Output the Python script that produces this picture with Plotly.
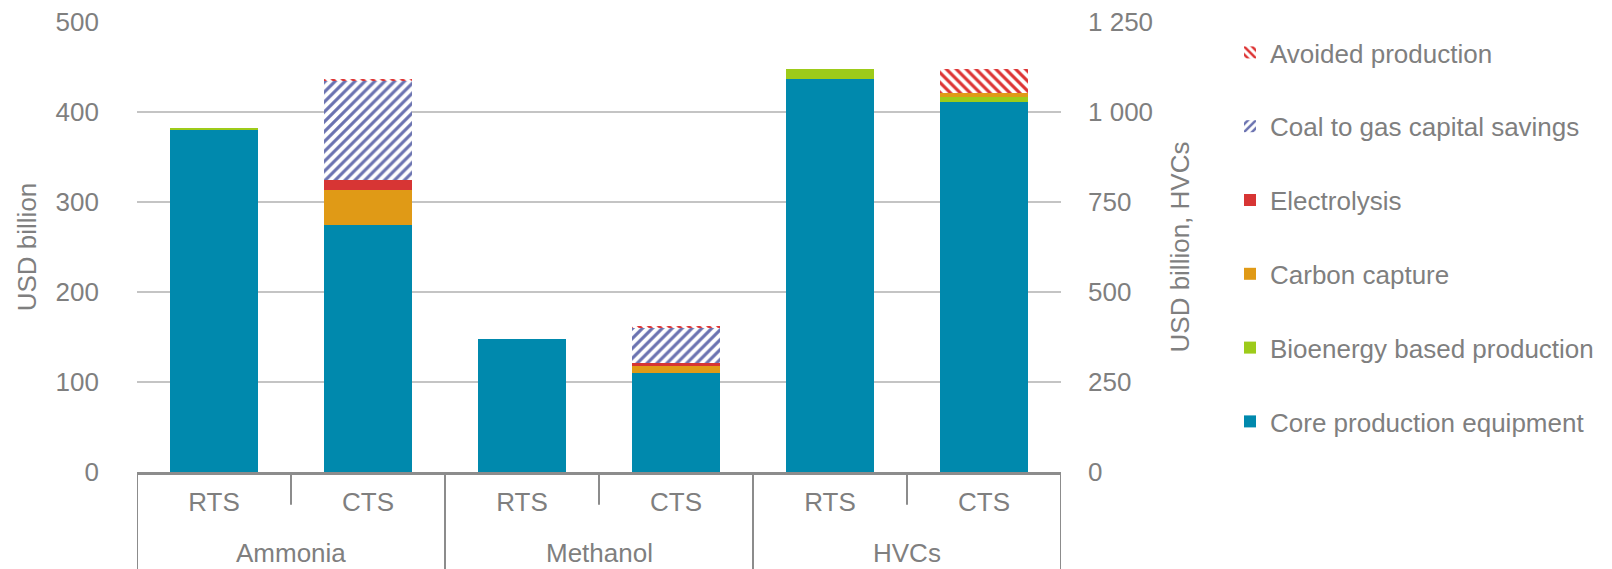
import plotly.graph_objects as go

groups = ["Ammonia", "Ammonia", "Methanol", "Methanol", "HVCs", "HVCs"]
scenarios = ["RTS", "CTS", "RTS", "CTS", "RTS", "CTS"]

core = [380, 275, 148, 110, 1092, 1029]
bioenergy = [2, 0, 0, 0, 27, 14]
carbon_capture = [0.5, 38, 0, 8, 0, 10]
electrolysis = [0, 12, 0, 3, 0, 0]
coal_to_gas = [0, 109, 0, 39.5, 0, 0]
avoided = [0, 3, 0, 1.5, 0, 66]

series = [
    ("Core production equipment", core, "#0089ad", None),
    ("Bioenergy based production", bioenergy, "#9dcb1a", None),
    ("Carbon capture", carbon_capture, "#e09a16", None),
    ("Electrolysis", electrolysis, "#d73534", None),
    ("Coal to gas capital savings", coal_to_gas, "#6a72b0", "/"),
    ("Avoided production", avoided, "#dd3333", "\\"),
]

FONT = "Liberation Sans, Arial, sans-serif"
GREY = "#7f7f7f"
LINE = "#8c8c8c"
FS = 26

keys = [f"{g} {s}" for g, s in zip(groups, scenarios)]
left_idx = [i for i, g in enumerate(groups) if g != "HVCs"]
right_idx = [i for i, g in enumerate(groups) if g == "HVCs"]

fig = go.Figure()
n = len(series)
for k, (name, vals, color, shape) in enumerate(series):
    if shape:
        marker = dict(color="white", line=dict(width=0),
                      pattern=dict(shape=shape, fgcolor=color, bgcolor="white",
                                   size=7, solidity=0.45, fillmode="replace"))
    else:
        marker = dict(color=color, line=dict(width=0))
    fig.add_trace(go.Bar(
        x=[keys[i] for i in left_idx], y=[vals[i] for i in left_idx],
        name=name, marker=marker, legendgroup=name, legendrank=n - k,
        showlegend=True, yaxis="y",
    ))
    fig.add_trace(go.Bar(
        x=[keys[i] for i in right_idx], y=[vals[i] for i in right_idx],
        name=name, marker=marker, legendgroup=name, legendrank=n - k,
        showlegend=False, yaxis="y2",
    ))

# category separators and group labels (derived from the category lists)
shapes = []
annotations = []
bounds = [-0.5]
for i in range(1, len(groups)):
    b = i - 0.5
    if groups[i] != groups[i - 1]:
        bounds.append(b)
    else:
        shapes.append(dict(type="line", xref="x", yref="paper", x0=b, x1=b,
                           y0=0, y1=-0.073, line=dict(color=LINE, width=2)))
bounds.append(len(groups) - 0.5)
for b in bounds:
    shapes.append(dict(type="line", xref="x", yref="paper", x0=b, x1=b,
                       y0=0, y1=-0.3, line=dict(color=LINE, width=2)))
seen = []
for g in groups:
    if g not in seen:
        seen.append(g)
for g in seen:
    idx = [i for i, gg in enumerate(groups) if gg == g]
    annotations.append(dict(text=g, xref="x", yref="paper", x=sum(idx) / len(idx),
                            y=-0.18, xanchor="center", yanchor="middle",
                            showarrow=False, font=dict(size=FS, color=GREY)))

fig.update_layout(
    width=1612, height=569,
    barmode="stack", bargap=0.43,
    plot_bgcolor="white", paper_bgcolor="white",
    margin=dict(l=137, r=551, t=22, b=97, autoexpand=False),
    font=dict(family=FONT, size=FS, color=GREY),
    separators=". ",
    shapes=shapes, annotations=annotations,
    hovermode=False,
    xaxis=dict(
        type="category", categoryorder="array", categoryarray=keys,
        labelalias={k: s for k, s in zip(keys, scenarios)},
        showline=True, linecolor=LINE, linewidth=3, ticks="",
        ticklabelstandoff=5, range=[-0.5, len(keys) - 0.5], automargin=False,
        tickfont=dict(size=FS, color=GREY), showgrid=False,
    ),
    yaxis=dict(
        range=[0, 500], dtick=100, showgrid=True, gridcolor="#c4c4c4", gridwidth=2,
        zeroline=False, showline=False, ticks="", ticklabelstandoff=37, automargin=False,
        title=dict(text="USD billion", font=dict(size=FS, color=GREY), standoff=11),
        tickfont=dict(size=FS, color=GREY),
    ),
    yaxis2=dict(
        range=[0, 1250], dtick=250, overlaying="y", side="right", showgrid=False,
        zeroline=False, showline=False, ticks="", ticklabelstandoff=26, automargin=False,
        separatethousands=True,
        title=dict(text="USD billion, HVCs", font=dict(size=FS, color=GREY), standoff=18),
        tickfont=dict(size=FS, color=GREY),
    ),
    legend=dict(
        x=1230 / 1612, xref="container", xanchor="left",
        y=1 - 29 / 569, yref="container", yanchor="top", maxheight=560,
        traceorder="grouped", tracegroupgap=37,
        font=dict(size=FS, color=GREY), bgcolor="rgba(0,0,0,0)",
    ),
)

fig.write_html("out.html", config={"displayModeBar": False, "staticPlot": True},
               post_script="document.body.style.margin='0';document.body.style.overflow='hidden';")
